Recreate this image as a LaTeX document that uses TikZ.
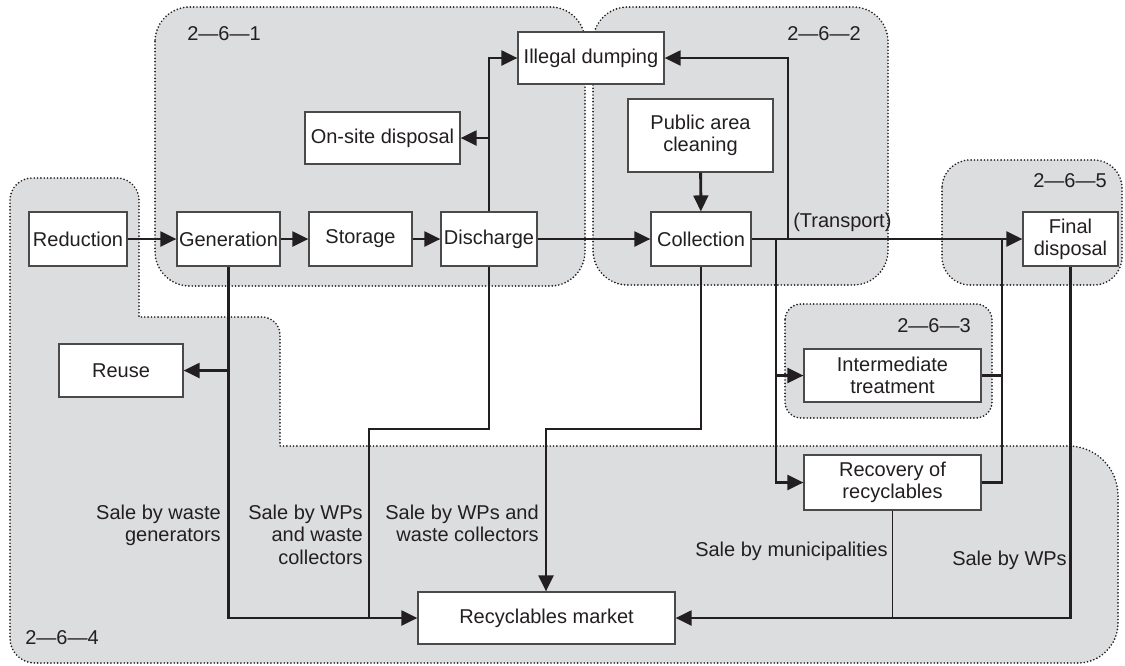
\documentclass[tikz,border=0pt]{standalone}
\usepackage{fontspec}
\setmainfont{Liberation Sans}
\usetikzlibrary{arrows.meta}
\definecolor{ink}{HTML}{231F20}
\definecolor{zone}{RGB}{220,221,223}
\definecolor{boxedge}{HTML}{4A4A4A}
\newcommand\fs{\fontsize{15}{16.6}\selectfont}
\newcommand\mkbox[6]{\node[box,minimum width={(#4-#2)*0.75pt},minimum height={(#5-#3)*0.75pt}] (#1) at ({(#2+#4)/2},{(#3+#5)/2}) {#6};}
\begin{document}
\begin{tikzpicture}[x=0.75pt,y=-0.75pt,
  box/.style={draw=boxedge,fill=white,line width=0.8pt,inner sep=0pt,align=center,font=\fs,text=ink},
  lbl/.style={inner sep=0pt,font=\fs,text=ink},
  zonefill/.style={fill=zone},
  zoneline/.style={draw=ink,line width=1.4pt,line cap=round,dash pattern=on 0pt off 2.5pt},
  flow/.style={draw=ink,line width=2.2pt},
  arr/.style={flow,-{Triangle[length=12pt,width=11pt]}},
  thinflow/.style={draw=ink,line width=1.1pt}]
\useasboundingbox (0,0) rectangle (1125,665);
\def\zonefour{(10,200) .. controls (10,188) and (20,178) .. (32,178) -- (117,178) .. controls (129,178) and (139,188) .. (139,200) -- (139,317) -- (262,317) .. controls (272,317) and (280,325) .. (280,335) -- (280,446) -- (1068,446) .. controls (1096,446) and (1118,468) .. (1118,496) -- (1118,623) .. controls (1118,645) and (1100,663) .. (1078,663) -- (35,663) .. controls (21,663) and (10,652) .. (10,638) -- cycle}
% zone fills
\path[zonefill] \zonefour;
\path[zonefill,rounded corners=26pt] (155,7) rectangle (585,286);
\path[zonefill,rounded corners=26pt] (593,7) rectangle (888,285);
\path[zonefill,rounded corners=21pt] (942,160) rectangle (1122,285);
\path[zonefill,rounded corners=12pt] (785,304) rectangle (992,418);
% zone borders
\path[zoneline] \zonefour;
\path[zoneline,rounded corners=26pt] (155,7) rectangle (585,286);
\path[zoneline,rounded corners=26pt] (593,7) rectangle (888,285);
\path[zoneline,rounded corners=21pt] (942,160) rectangle (1122,285);
\path[zoneline,rounded corners=12pt] (785,304) rectangle (992,418);
% boxes
\mkbox{red}{29}{212}{127}{266}{Reduction}
\mkbox{gen}{177}{212}{280}{266}{Generation}
\mkbox{sto}{309}{212}{412}{266}{Storage}
\mkbox{dis}{441}{212}{537}{266}{Discharge}
\mkbox{col}{651}{212}{751}{266}{Collection}
\mkbox{fin}{1023}{212}{1118}{266}{Final\\disposal}
\mkbox{ill}{518}{32}{664}{84}{Illegal dumping}
\mkbox{ons}{305}{112}{460}{164}{On-site disposal}
\mkbox{pub}{628}{99}{773}{172}{Public area\\cleaning}
\mkbox{int}{804}{349}{981}{402}{Intermediate\\treatment}
\mkbox{rec}{804}{455}{981}{510}{Recovery of\\recyclables}
\mkbox{reu}{59}{344}{183}{397}{Reuse}
\mkbox{mkt}{418}{592}{675}{644}{Recyclables market}
% junction points
\coordinate (jUp) at (788,239);
\coordinate (jDn) at (776,239);
\coordinate (jR) at (1002,239);
\coordinate (d1) at (369,429);
\coordinate (c1) at (546,429);
% connectors
\draw[arr] (red) -- (gen);
\draw[arr] (gen) -- (sto);
\draw[arr] (sto) -- (dis);
\draw[arr] (dis) -- (col);
\draw[arr] (dis.north) |- (ill.west);
\draw[arr] (dis.north |- ons.east) -- (ons.east);
\draw[arr] (pub) -- (col);
\draw[arr] (col) -- (fin);
\draw[arr] (jUp) |- (ill.east);
\draw[arr] (jDn) |- (rec.west);
\draw[arr] (jDn |- int.west) -- (int.west);
\draw[flow] (int.east) -- (int.east -| jR);
\draw[flow] (rec.east) -| (jR);
\draw[arr] (gen.south) |- (mkt.west);
\draw[arr] (gen.south |- reu.east) -- (reu.east);
\draw[flow] (dis.south) |- (d1) -- (d1 |- mkt.west);
\draw[arr] (col.south) |- (c1) -- (c1 |- mkt.north);
\draw[arr] (fin.south) |- (mkt.east);
\draw[thinflow] (rec.south) -- (rec.south |- mkt.east);
% labels
\node[lbl,anchor=base west] (z1) at (187,40) {2—6—1};
\node[lbl,anchor=base west] (z2) at (787,40) {2—6—2};
\node[lbl,anchor=base west] (z3) at (897,332) {2—6—3};
\node[lbl,anchor=base west] (z4) at (25,644) {2—6—4};
\node[lbl,anchor=base west] (z5) at (1033,187) {2—6—5};
\node[lbl,anchor=base west] (tr) at (793,227) {(Transport)};
\node[lbl,anchor=north east,align=right] (sg) at (221,505) {Sale by waste\\generators};
\node[lbl,anchor=north east,align=right] (sw1) at (363,505) {Sale by WPs\\and waste\\collectors};
\node[lbl,anchor=north east,align=right] (sw2) at (539,505) {Sale by WPs and\\waste collectors};
\node[lbl,anchor=base west] (sm) at (695,556) {Sale by municipalities};
\node[lbl,anchor=base west] (sp) at (952,565) {Sale by WPs};
\end{tikzpicture}
\end{document}
